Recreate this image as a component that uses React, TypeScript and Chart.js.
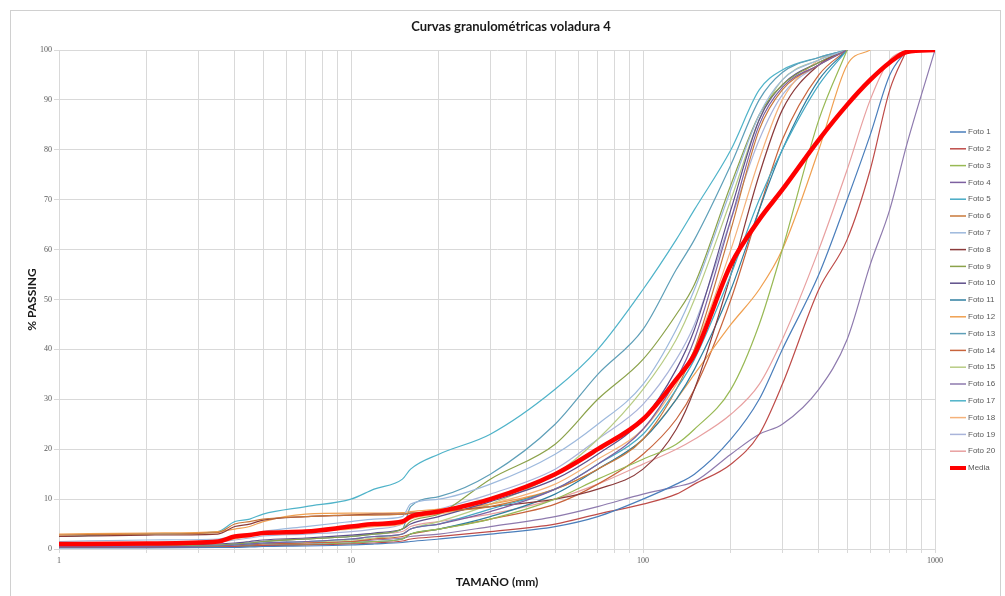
import React, { useEffect, useRef } from "react";
import { Chart, registerables } from "chart.js";
Chart.register(...registerables);

// particle sizes (mm) at which every curve is sampled
const sizes = [1, 2, 3.5, 4, 4.5, 5, 7, 10, 12, 15, 16, 20, 30, 50, 70, 100, 130, 150, 200, 250, 300, 400, 500, 600, 700, 800, 1000];

// % passing per photo (arrays end once 100 % is reached)
const foto1 = [0.2, 0.2, 0.3, 0.3, 0.4, 0.5, 0.6, 0.8, 1, 1.3, 1.5, 2, 3, 4.5, 6.5, 10, 13, 15, 22, 30, 40, 55, 70, 83, 95, 100];
const foto2 = [0.3, 0.3, 0.4, 0.5, 0.6, 0.7, 0.8, 1, 1.2, 1.6, 2, 2.5, 3.5, 5, 7, 9, 11, 13, 17, 23, 33, 52, 62, 76, 92, 100];
const foto3 = [0.3, 0.3, 0.4, 0.5, 0.6, 0.7, 0.9, 1.2, 1.5, 2, 3, 4, 6, 10, 14, 18, 21, 24, 32, 45, 60, 86, 100];
const foto4 = [0.5, 0.5, 0.6, 0.8, 1, 1.2, 1.5, 2, 2.5, 3, 4, 5, 7.5, 12, 17, 24, 34, 42, 66, 85, 92.5, 97, 100];
const foto5 = [0.5, 0.5, 0.6, 0.8, 1, 1.2, 1.5, 2, 2.5, 3, 4, 5, 8, 12, 17, 23, 32, 38, 55, 70, 80, 93, 100];
const foto6 = [2.8, 3, 3.3, 5, 5.5, 6, 6.5, 6.8, 6.8, 7, 7.2, 7.5, 8.5, 12, 16, 22, 32, 40, 64, 84, 92, 97, 100];
const foto7 = [1.5, 1.8, 2, 2.5, 3, 3.5, 4.5, 5.5, 6, 6.5, 9, 10, 13, 19, 25, 33, 44, 52, 72, 87, 94, 98, 100];
const foto8 = [2.5, 2.8, 3, 4.5, 5, 5.8, 6.5, 6.8, 7, 7, 7.2, 7.5, 8.5, 10, 12, 16, 24, 32, 55, 75, 88, 97, 100];
const foto9 = [0.5, 0.6, 0.8, 1, 1.2, 1.5, 2, 2.5, 3, 4, 5.5, 7, 14, 21, 30, 38, 47, 53, 73, 87, 93, 97.5, 100];
const foto10 = [0.8, 0.8, 1, 1.2, 1.5, 1.8, 2.2, 2.8, 3.2, 4, 5, 6.5, 9.5, 14, 19, 26, 36, 44, 68, 86, 93, 97.5, 100];
const foto11 = [0.3, 0.3, 0.4, 0.5, 0.6, 0.7, 0.9, 1.2, 1.5, 2, 3, 4, 6.5, 11, 16, 22, 30, 36, 52, 68, 80, 94, 100];
const foto12 = [3, 3.2, 3.5, 4, 4.5, 5.5, 7, 7.2, 7.2, 7.3, 7.5, 8, 9, 12, 16, 22, 30, 35, 45, 52, 60, 80, 97, 100];
const foto13 = [0.5, 0.6, 0.8, 1, 1.2, 1.5, 2, 2.5, 3, 4, 8.5, 10.5, 15, 25, 35, 44, 56, 62, 77, 90, 95.5, 98.5, 100];
const foto14 = [0.3, 0.4, 0.5, 0.6, 0.8, 1, 1.2, 1.5, 2, 2.5, 3, 4, 6, 9, 13, 19, 26, 32, 50, 68, 82, 95, 100];
const foto15 = [0.3, 0.4, 0.5, 0.7, 0.8, 1, 1.3, 1.8, 2.2, 3, 4, 5.5, 9, 15, 22, 32, 42, 50, 70, 86, 94, 98, 100];
const foto16 = [0.5, 0.5, 0.6, 0.7, 0.8, 1, 1.2, 1.5, 1.8, 2.2, 2.5, 3, 4.5, 6.5, 8.5, 11, 12.5, 13.5, 19, 23, 25, 32, 42, 57, 68, 81, 100];
const foto17 = [2.5, 3, 3.5, 5.5, 6, 7, 8.5, 10, 12, 14, 16, 19, 23, 32, 40, 52, 62, 68, 80, 92, 96, 98.5, 100];
const foto18 = [1, 1.2, 1.5, 2, 2.5, 3, 3.5, 4, 4.5, 5, 6, 7, 9, 13, 18, 24, 33, 40, 60, 78, 90, 98, 100];
const foto19 = [1, 1.2, 1.4, 1.8, 2.2, 2.6, 3, 3.5, 4, 5, 6.5, 8, 11, 16, 22, 29, 38, 45, 66, 82, 91, 97, 100];
const foto20 = [0.5, 0.5, 0.6, 1, 1.2, 1.5, 2, 2.5, 3, 3.5, 4.5, 5.5, 7, 10, 13, 17, 20, 22, 27, 33, 42, 60, 76, 90, 98, 100];
const media = [1, 1.1, 1.5, 2.5, 2.8, 3.2, 3.5, 4.5, 5, 5.5, 6.5, 7.5, 10, 15, 20, 26, 34, 39, 57, 66, 72, 82, 89, 94, 97.5, 99.6, 100];

const seriesNames = ["Foto 1", "Foto 2", "Foto 3", "Foto 4", "Foto 5", "Foto 6", "Foto 7", "Foto 8", "Foto 9", "Foto 10",
  "Foto 11", "Foto 12", "Foto 13", "Foto 14", "Foto 15", "Foto 16", "Foto 17", "Foto 18", "Foto 19", "Foto 20", "Media"];
const seriesValues = [foto1, foto2, foto3, foto4, foto5, foto6, foto7, foto8, foto9, foto10,
  foto11, foto12, foto13, foto14, foto15, foto16, foto17, foto18, foto19, foto20, media];
const seriesColors = ["#4A7EBB", "#BE4B48", "#98B954", "#7D60A0", "#46AAC5", "#C9783A", "#9DB9DD", "#8B3A3A", "#8BA24A", "#5E4F8A",
  "#2F7FA0", "#F0A050", "#5E9FB8", "#C8643C", "#B8CC84", "#8E7AAE", "#4FB3C9", "#F5B27A", "#A9B4DA", "#E8A0A0", "#FF0000"];

const xLabelValues = [1, 10, 100, 1000];
const yTickStep = 10;

const chartTitle = "Curvas granulométricas voladura 4";
const xTitle = "TAMAÑO (mm)";
const yTitle = "% PASSING";

const decorPlugin = {
  id: "decor",
  afterDraw(chart: any) {
    const ctx = chart.ctx as CanvasRenderingContext2D;
    const ca = chart.chartArea;
    ctx.save();
    // outer frame
    ctx.strokeStyle = "#d0d0d0";
    ctx.lineWidth = 1;
    ctx.strokeRect(10.5, 10.5, 990, 600);
    // title
    ctx.fillStyle = "#1a1a1a";
    ctx.textAlign = "center";
    ctx.textBaseline = "middle";
    ctx.font = "bold 13px Lato, 'Open Sans', sans-serif";
    ctx.fillText(chartTitle, 511, 27);
    // axis titles
    ctx.font = "bold 12px Lato, 'Open Sans', sans-serif";
    ctx.fillText(xTitle, (ca.left + ca.right) / 2, 582);
    ctx.save();
    ctx.translate(32, (ca.top + ca.bottom) / 2);
    ctx.rotate(-Math.PI / 2);
    ctx.fillText(yTitle, 0, 0);
    ctx.restore();
    // legend
    ctx.textAlign = "left";
    ctx.font = "8px 'Liberation Sans', sans-serif";
    seriesNames.forEach((name, i) => {
      const y = 132 + i * 16.8;
      ctx.strokeStyle = seriesColors[i];
      ctx.lineWidth = i === 20 ? 4 : 1.5;
      ctx.beginPath();
      ctx.moveTo(950, y);
      ctx.lineTo(966, y);
      ctx.stroke();
      ctx.fillStyle = "#595959";
      ctx.fillText(name, 968, y);
    });
    ctx.restore();
  },
};

export default function App() {
  const ref = useRef<HTMLCanvasElement>(null);
  useEffect(() => {
    if (!ref.current) return;
    const datasets = seriesValues.map((vals, i) => ({
      label: seriesNames[i],
      data: vals.map((v, j) => ({ x: sizes[j], y: v })),
      borderColor: seriesColors[i],
      backgroundColor: seriesColors[i],
      borderWidth: i === 20 ? 4.5 : 1.2,
      pointRadius: 0,
      cubicInterpolationMode: "monotone" as const,
      fill: false,
      order: i === 20 ? -1 : 0,
    }));
    const tickFont = { family: "'Liberation Serif', serif", size: 8 };
    const chart = new Chart(ref.current, {
      type: "line",
      data: { datasets },
      plugins: [decorPlugin],
      options: {
        animation: false,
        responsive: false,
        layout: { padding: { left: 0, right: 70, top: 50, bottom: 0 } },
        plugins: { legend: { display: false }, tooltip: { enabled: false }, title: { display: false } },
        scales: {
          x: {
            type: "logarithmic",
            min: 1,
            max: 1000,
            afterBuildTicks: (s: any) => {
              const t: any[] = [];
              for (let k = 0; k < 3; k++) {
                for (let m = 1; m < 10; m++) t.push({ value: m * Math.pow(10, k) });
              }
              t.push({ value: 1000 });
              s.ticks = t;
            },
            afterFit: (s: any) => { s.height = 47; },
            ticks: {
              autoSkip: false,
              maxRotation: 0,
              padding: 3,
              color: "#595959",
              font: tickFont,
              callback: (v: any) => (xLabelValues.includes(Number(v)) ? String(v) : ""),
            },
            grid: { color: "#d9d9d9", tickLength: 4 },
            border: { color: "#d9d9d9" },
          },
          y: {
            type: "linear",
            min: 0,
            max: 100,
            afterFit: (s: any) => { s.width = 59; },
            ticks: { stepSize: yTickStep, padding: 2, color: "#595959", font: tickFont },
            grid: { color: "#d9d9d9", tickLength: 5 },
            border: { color: "#d9d9d9" },
          },
        },
      } as any,
    });
    return () => chart.destroy();
  }, []);
  return (
    <div style={{ position: "absolute", left: 0, top: 0, width: 1005, height: 596, background: "#fff" }}>
      <canvas ref={ref} width={1005} height={596} />
    </div>
  );
}
